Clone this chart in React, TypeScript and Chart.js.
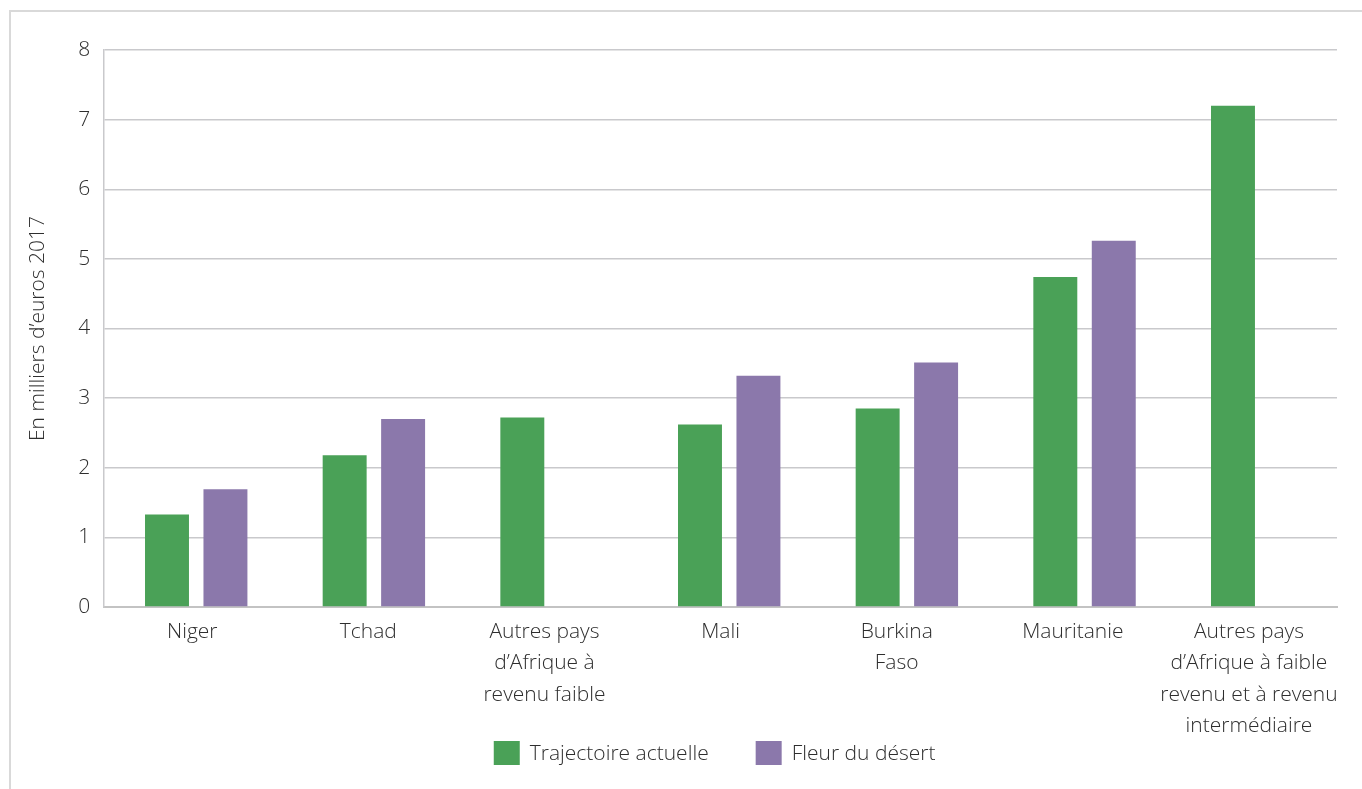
import React, { useEffect, useRef } from "react";
import { Chart, registerables } from "chart.js";

Chart.register(...registerables);

// Category labels (multi-line where the label wraps)
const categories: string[][] = [
  ["Niger"],
  ["Tchad"],
  ["Autres pays", "d’Afrique à", "revenu faible"],
  ["Mali"],
  ["Burkina", "Faso"],
  ["Mauritanie"],
  ["Autres pays", "d’Afrique à faible", "revenu et à revenu", "intermédiaire"],
];

// Series values, in thousands of 2017 euros
const trajectoireActuelle: (number | null)[] = [1.33, 2.18, 2.72, 2.62, 2.85, 4.74, 7.2];
const fleurDuDesert: (number | null)[] = [1.69, 2.7, null, 3.32, 3.51, 5.26, null];

const seriesNames = ["Trajectoire actuelle", "Fleur du désert"];
const seriesColors = ["#4aa157", "#8b78ab"];

const yAxisTitle = "En milliers d’euros 2017";
const yMin = 0;
const yMax = 8;
const yStep = 1;

const FONT = "'Open Sans', Roboto, 'Liberation Sans', Arial, sans-serif";
const FONT_SIZE = 21;
const TEXT = "#2e2e2e";
const GRID = "#c9c9cc";

// Light frame along the top and left edge of the figure
const framePlugin = {
  id: "frame",
  beforeDraw(chart: any) {
    const ctx = chart.ctx;
    ctx.save();
    ctx.strokeStyle = "#d9d9d9";
    ctx.lineWidth = 2;
    ctx.beginPath();
    ctx.moveTo(10, chart.height);
    ctx.lineTo(10, 11);
    ctx.lineTo(chart.width, 11);
    ctx.stroke();
    ctx.restore();
  },
};

// Legend drawn below the category labels, centred on the plot area
const legendPlugin = {
  id: "bottomLegend",
  afterDraw(chart: any) {
    const ctx = chart.ctx;
    const area = chart.chartArea;
    const box = 26;
    const boxH = 24;
    const gapText = 10;
    const gapItem = 47;
    ctx.save();
    ctx.font = `300 ${FONT_SIZE}px ${FONT}`;
    ctx.textBaseline = "middle";
    ctx.textAlign = "left";
    const items = chart.data.datasets.map((d: any) => ({
      label: d.label,
      color: d.backgroundColor,
      w: ctx.measureText(d.label).width,
    }));
    const total =
      items.reduce((s: number, it: any) => s + box + gapText + it.w, 0) +
      gapItem * (items.length - 1);
    let x = (area.left + area.right) / 2 - total / 2 - 6;
    const cy = area.bottom + 146;
    items.forEach((it: any) => {
      ctx.fillStyle = it.color;
      ctx.fillRect(x, cy - boxH / 2, box, boxH);
      ctx.fillStyle = TEXT;
      ctx.fillText(it.label, x + box + gapText, cy + 1);
      x += box + gapText + it.w + gapItem;
    });
    ctx.restore();
  },
};

export default function App() {
  const canvasRef = useRef<HTMLCanvasElement | null>(null);

  useEffect(() => {
    if (!canvasRef.current) return;
    const indices = categories.map((_, i) => i);
    const chart = new Chart(canvasRef.current, {
      type: "bar",
      data: {
        labels: categories,
        datasets: [
          {
            label: seriesNames[0],
            data: indices.map((i) => ({ x: i, y: trajectoireActuelle[i] })) as any,
            backgroundColor: seriesColors[0],
            xAxisID: "xb",
            yAxisID: "y",
          },
          {
            label: seriesNames[1],
            data: indices.map((i) => ({ x: i, y: fleurDuDesert[i] })) as any,
            backgroundColor: seriesColors[1],
            xAxisID: "xb",
            yAxisID: "y",
          },
        ],
      },
      options: {
        animation: false,
        responsive: true,
        maintainAspectRatio: false,
        devicePixelRatio: 1,
        categoryPercentage: 0.658,
        barPercentage: 0.752,
        layout: { padding: { top: 50, left: 15, right: 25, bottom: 38 } },
        plugins: {
          legend: { display: false },
          tooltip: { enabled: false },
        },
        scales: {
          // Visible category axis carrying the labels
          x: {
            type: "category",
            offset: true,
            grid: { display: false, drawTicks: false },
            border: { display: true, color: "#c3c3c3", width: 2 },
            ticks: {
              color: TEXT,
              padding: 9,
              maxRotation: 0,
              autoSkip: false,
              font: { family: FONT, size: FONT_SIZE, weight: "300", lineHeight: 1.5 },
            },
          },
          // Hidden numeric axis the bar groups are placed on
          xb: {
            type: "linear",
            display: false,
            offset: false,
            min: -0.518,
            max: 6.421,
            ticks: { stepSize: 1, includeBounds: false },
          },
          y: {
            type: "linear",
            min: yMin,
            max: yMax,
            grid: { color: GRID, lineWidth: 1.5, drawTicks: false },
            border: { display: true, color: GRID, width: 1.5 },
            ticks: {
              stepSize: yStep,
              color: TEXT,
              padding: 14,
              font: { family: FONT, size: FONT_SIZE, weight: "300" },
            },
            title: {
              display: true,
              text: yAxisTitle,
              color: TEXT,
              padding: { top: 10, bottom: 14 },
              font: { family: FONT, size: FONT_SIZE, weight: "300", lineHeight: 1.2 },
            },
          },
        },
      },
      plugins: [framePlugin, legendPlugin],
    });
    return () => chart.destroy();
  }, []);

  return (
    <div
      style={{
        position: "fixed",
        left: 0,
        top: 0,
        width: 1362,
        height: 789,
        background: "#ffffff",
      }}
    >
      <canvas ref={canvasRef} />
    </div>
  );
}
